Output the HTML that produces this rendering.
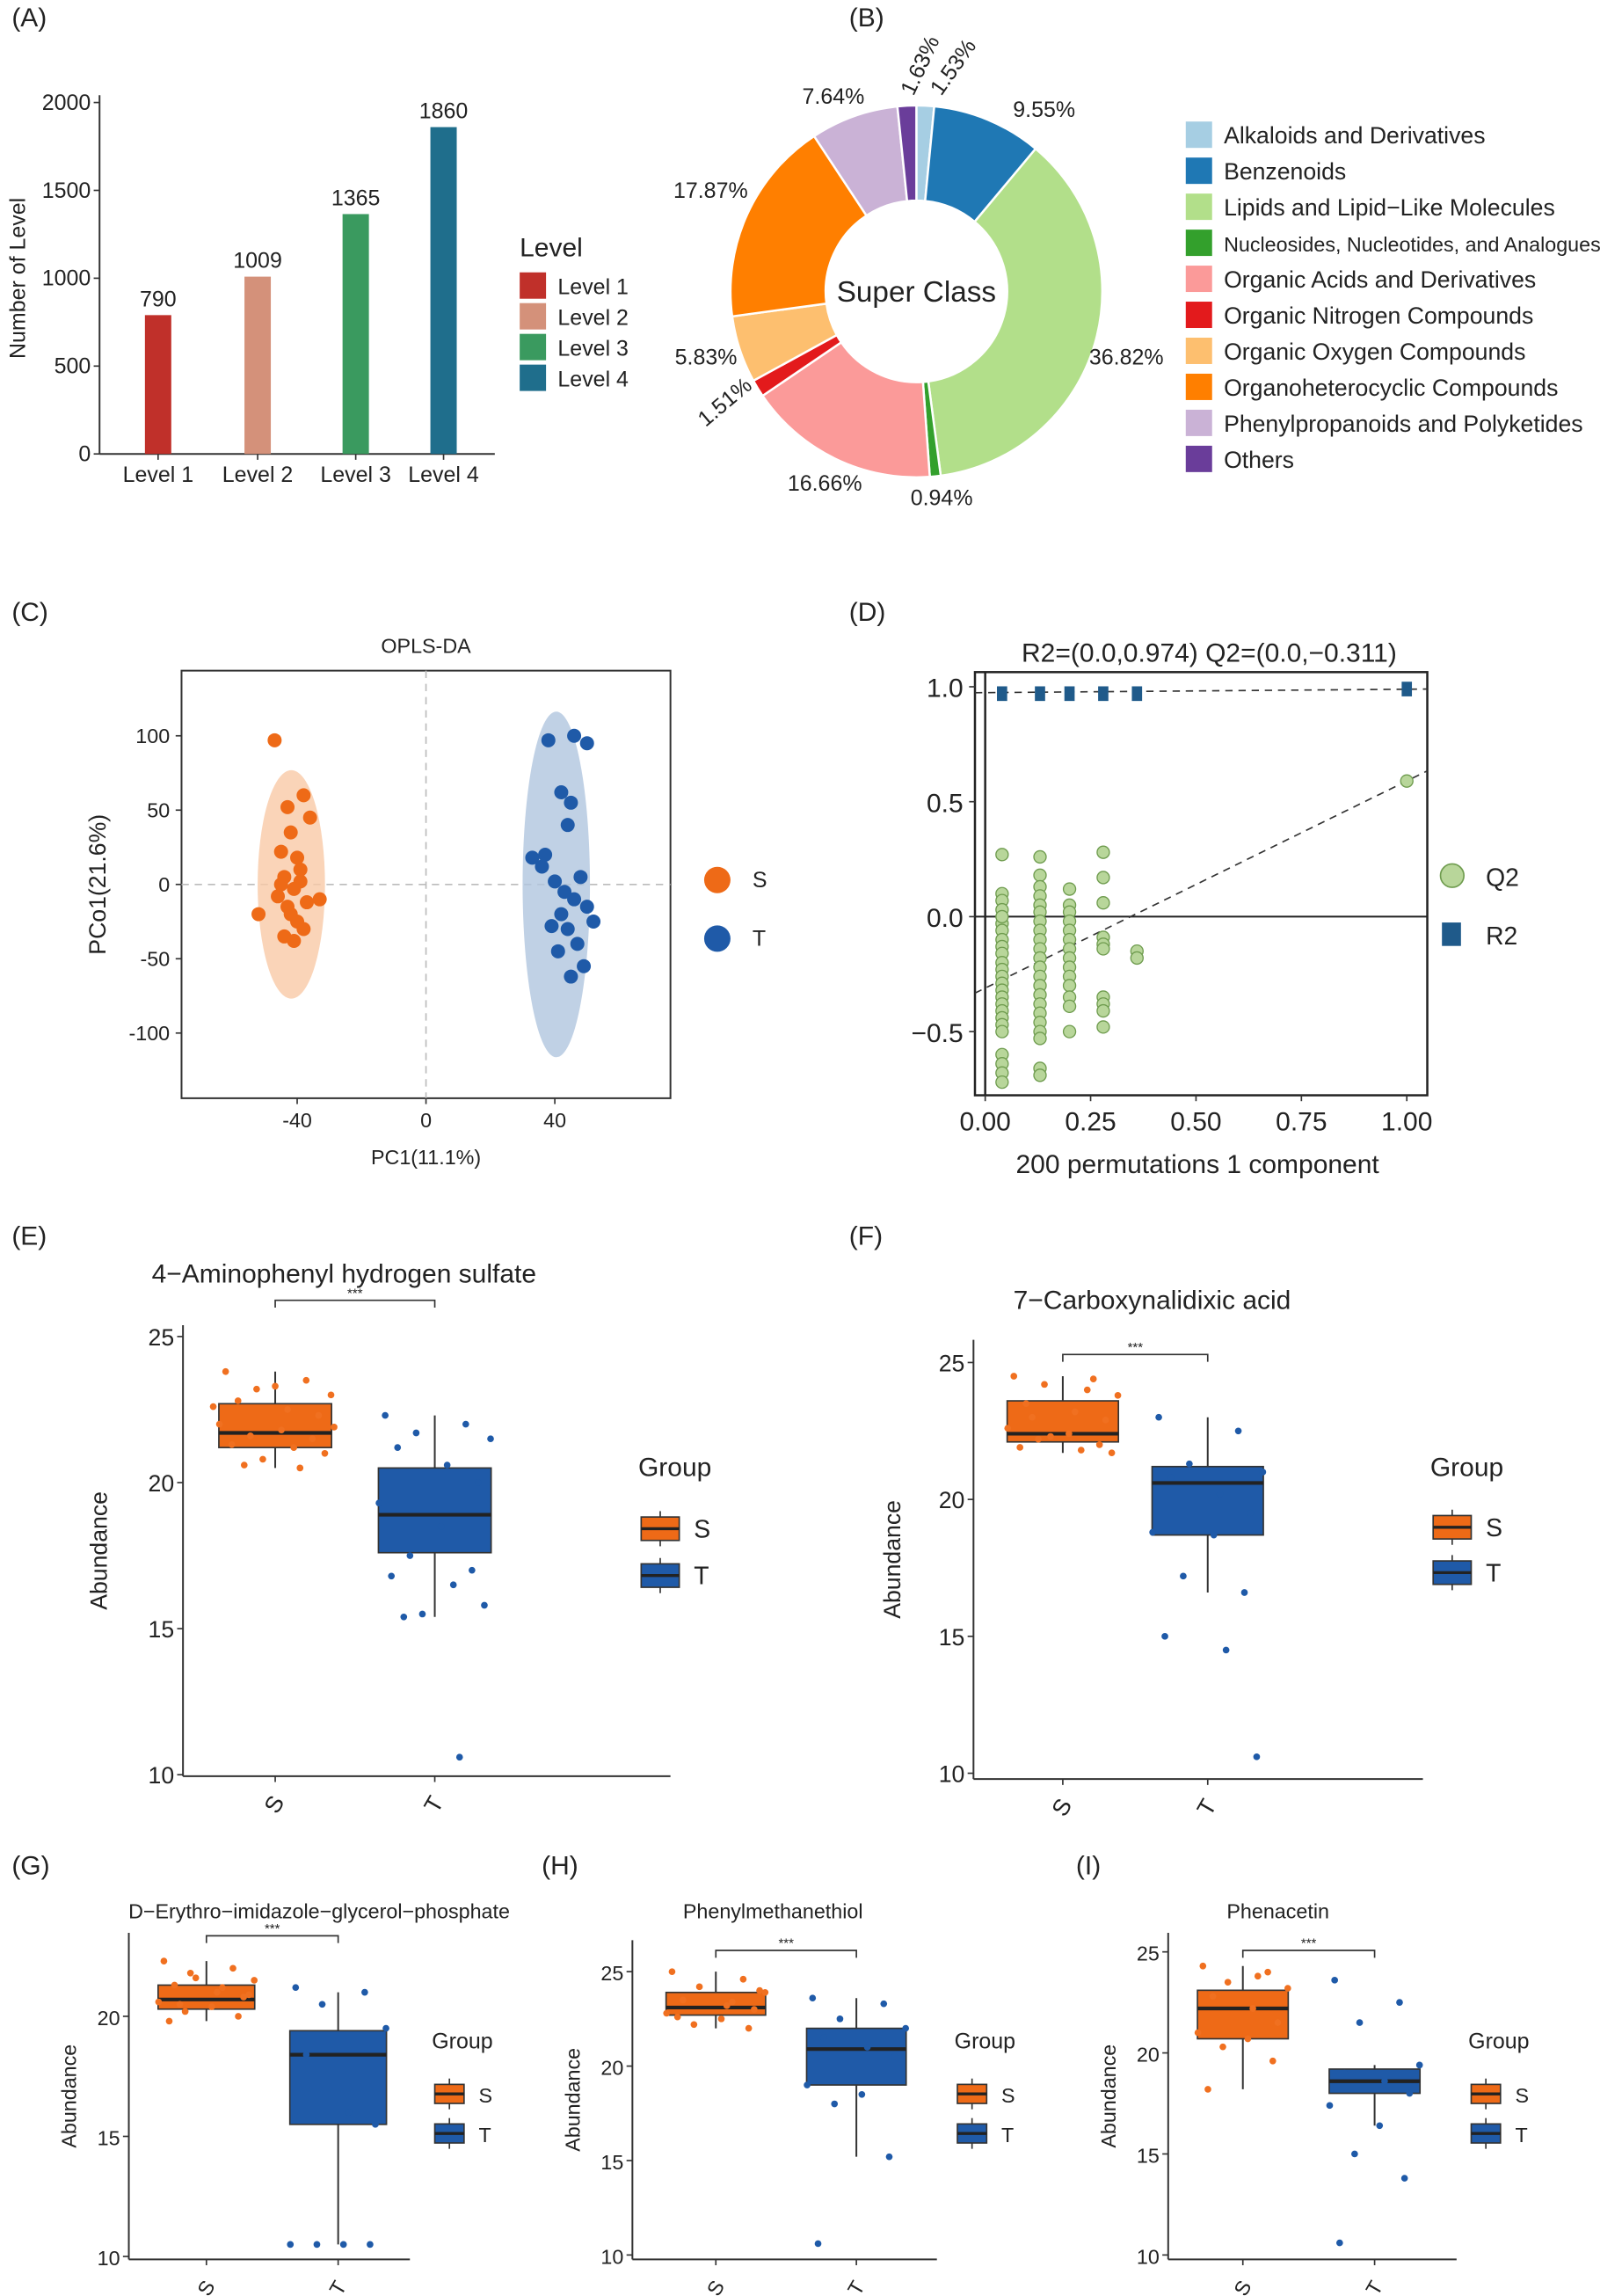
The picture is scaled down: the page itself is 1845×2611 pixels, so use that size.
<!DOCTYPE html>
<html><head><meta charset="utf-8"><style>
html,body{margin:0;padding:0;background:#fff}
svg{display:block;font-family:"Liberation Sans",Arial,sans-serif}
</style></head><body>
<svg id="fig" width="1845" height="2611" viewBox="0 0 1108 1568" xmlns="http://www.w3.org/2000/svg"></svg>
<script>
// ---------- DATA ----------
const levelCats=["Level 1","Level 2","Level 3","Level 4"];
const levelVals=[790,1009,1365,1860];
const levelTicks=[0,500,1000,1500,2000];
const superCats=["Alkaloids and Derivatives","Benzenoids","Lipids and Lipid\u2212Like Molecules","Nucleosides, Nucleotides, and Analogues","Organic Acids and Derivatives","Organic Nitrogen Compounds","Organic Oxygen Compounds","Organoheterocyclic Compounds","Phenylpropanoids and Polyketides","Others"];
const superVals=[1.53,9.55,36.82,0.94,16.66,1.51,5.83,17.87,7.64,1.63];
const oplsSx=[-47,-43,-38,-36,-42,-45,-40,-44,-39,-41,-46,-37,-43,-42,-40,-52,-33,-38,-44,-41,-45,-39];
const oplsSy=[97,52,60,45,35,22,18,5,2,-3,-8,-12,-15,-20,-25,-20,-10,-30,-35,-38,0,10];
const oplsTx=[46,50,38,42,45,44,33,36,48,40,43,46,52,39,44,47,41,49,45,37,42,50];
const oplsTy=[100,95,97,62,55,40,18,12,5,2,-5,-10,-25,-28,-30,-40,-45,-55,-62,20,-20,-15];
const permX=[0.04,0.13,0.2,0.28,0.36];
const q2col0=[0.27,0.1,0.07,0.03,-0.03,-0.06,-0.1,-0.13,-0.16,-0.2,-0.23,-0.26,-0.29,-0.32,-0.35,-0.38,-0.41,-0.44,-0.47,-0.5,-0.6,-0.64,-0.68,-0.72,0.0];
const q2col1=[0.26,0.18,0.13,0.09,0.05,0.02,-0.02,-0.06,-0.1,-0.14,-0.18,-0.22,-0.26,-0.3,-0.34,-0.38,-0.42,-0.46,-0.5,-0.53,-0.66,-0.69];
const q2col2=[0.12,0.05,0.02,-0.02,-0.06,-0.1,-0.14,-0.18,-0.22,-0.26,-0.3,-0.35,-0.39,-0.5];
const q2col3=[0.28,0.17,0.06,-0.09,-0.12,-0.14,-0.35,-0.38,-0.41,-0.48];
const q2col4=[-0.15,-0.18];
const r2Xs=[0.04,0.13,0.2,0.28,0.36,1.0];
const r2Ys=[0.97,0.97,0.97,0.97,0.97,0.99];
const q2Real=[1.0,0.59];
const jitter=[-0.8,0.5,-0.3,0.9,-0.6,0.2,0.7,-0.9,0.1,-0.4,0.6,-0.7,0.3,0.8,-0.2,-0.5,0.4,-1,0.95,0,-0.15,0.55];
const eS=[23.8,23.5,23.2,23.0,22.8,22.5,22.3,22.0,21.8,21.6,21.5,21.3,21.2,21.0,20.8,20.6,20.5,22.6,21.9,23.3];
const eT=[22.3,22.0,21.7,21.5,21.2,20.6,20.0,19.3,18.5,17.5,17.0,16.8,16.5,15.8,15.5,15.4,10.6];
const fS=[24.5,24.4,24.2,23.8,23.5,23.2,22.9,22.6,22.4,22.2,22.0,21.9,21.8,21.7,22.3,23.0,24.0];
const fT=[23.0,22.5,21.3,21.0,20.8,20.2,19.5,18.8,18.7,17.2,16.6,15.0,14.5,10.6];
const gS=[22.3,22.0,21.8,21.5,21.3,21.0,20.8,20.6,20.4,20.2,20.0,19.8,21.2,20.9,21.6,20.5];
const gT=[21.2,21.0,20.5,19.5,18.4,16.0,15.5,10.5,10.5,10.5,10.5];
const hS=[25.0,24.6,24.2,23.9,23.5,23.2,23.0,22.8,22.5,22.2,22.0,22.6,23.4,24.0];
const hT=[23.6,23.3,22.5,22.0,21.5,21.0,20.5,19.0,18.5,18.0,15.2,10.6];
const iS=[24.3,24.0,23.5,23.2,22.8,22.2,21.5,21.0,20.7,20.3,19.6,18.2,23.8];
const iT=[23.6,22.5,21.5,19.4,19.0,18.6,18.0,17.4,16.4,15.0,13.8,10.6];
const boxStats={
 E:{S:[20.5,21.2,21.7,22.7,23.8],T:[15.4,17.6,18.9,20.5,22.3]},
 F:{S:[21.7,22.1,22.4,23.6,24.5],T:[16.6,18.7,20.6,21.2,23.0]},
 G:{S:[19.8,20.3,20.7,21.3,22.3],T:[10.5,15.5,18.4,19.4,21.0]},
 H:{S:[22.0,22.7,23.1,23.9,25.0],T:[15.2,19.0,20.9,22.0,23.6]},
 I:{S:[18.2,20.7,22.2,23.1,24.3],T:[16.4,18.0,18.6,19.2,19.4]}
};
// ---------- HELPERS ----------
const svg=document.getElementById('fig');
const NS='http://www.w3.org/2000/svg';
function el(tag,attrs,parent,text){const e=document.createElementNS(NS,tag);for(const k in attrs)e.setAttribute(k,attrs[k]);if(text!==undefined)e.textContent=text;(parent||svg).appendChild(e);return e;}
function txt(x,y,s,size,opts,parent){opts=opts||{};const a={x:x,y:y,'font-size':size,fill:opts.fill||'#222','text-anchor':opts.anchor||'start'};if(opts.rot!==undefined)a.transform='rotate('+opts.rot+' '+x+' '+y+')';if(opts.weight)a['font-weight']=opts.weight;const t=el('text',a,parent,s);return t;}
function grp(name){const g=el('g',{},svg);return g;}
[["(A)",8,18],["(B)",580,18],["(C)",8,424],["(D)",580,424],["(E)",8,850],["(F)",580,850],["(G)",8,1280],["(H)",370,1280],["(I)",735,1280]].forEach(p=>{txt(p[1],p[2],p[0],18,{name:'panel-label'});});

// ---------- A ----------
(function(){
 const g=grp('panel-a-bar-chart');
 const x0=68,x1=338,yb=310,yt=70;
 const ys=v=>yb-(v/2000)*(yb-yt);
 el('line',{x1:x0,y1:yt-5,x2:x0,y2:yb,stroke:'#333','stroke-width':1.2},g);
 el('line',{x1:x0,y1:yb,x2:x1,y2:yb,stroke:'#333','stroke-width':1.2},g);
 levelTicks.forEach(t=>{el('line',{x1:x0-4,y1:ys(t),x2:x0,y2:ys(t),stroke:'#333'},g);txt(x0-6,ys(t)+5,String(t),15,{anchor:'end',name:'y-tick-label'},g);});
 const cols=['#c0302a','#d4917a','#3a9a5f','#1f6e8c'];
 const xc=[108,176,243,303];
 levelVals.forEach((v,i)=>{const r=el('rect',{x:xc[i]-9,y:ys(v),width:18,height:yb-ys(v),fill:cols[i]},g);
  txt(xc[i],ys(v)-6,String(v),15,{anchor:'middle',name:'bar-value'},g);
  el('line',{x1:xc[i],y1:yb,x2:xc[i],y2:yb+4,stroke:'#333'},g);
  txt(xc[i],yb+19,levelCats[i],15,{anchor:'middle',name:'x-tick-label'},g);});
 txt(17,190,'Number of Level',15,{anchor:'middle',rot:-90,name:'y-axis-title'},g);
 txt(355,175,'Level',18,{name:'legend-title'},g);
 levelCats.forEach((c,i)=>{const y=186+i*21;const r=el('rect',{x:355,y:y,width:18,height:18,fill:cols[i]},g);txt(381,y+15,c,15,{name:'legend-entry'},g);});
})();

// ---------- B ----------
(function(){
 const g=grp('panel-b-donut');
 const cx=626,cy=199,R=127,r=62;
 const cols=['#a6cee3','#1f78b4','#b2df8a','#33a02c','#fb9a99','#e31a1c','#fdbf6f','#ff7f00','#cab2d6','#6a3d9a'];
 const tot=superVals.reduce((a,b)=>a+b,0);let a0=0;
 superVals.forEach((v,i)=>{const a1=a0+v/tot*2*Math.PI;
  const p=(a,rr)=>[cx+rr*Math.sin(a),cy-rr*Math.cos(a)];
  const [x1,y1]=p(a0,R),[x2,y2]=p(a1,R),[x3,y3]=p(a1,r),[x4,y4]=p(a0,r);const lg=(a1-a0)>Math.PI?1:0;
  const s=el('path',{d:`M${x1},${y1}A${R},${R} 0 ${lg} 1 ${x2},${y2}L${x3},${y3}A${r},${r} 0 ${lg} 0 ${x4},${y4}Z`,fill:cols[i],stroke:'#fff','stroke-width':1.5},g);
  
  a0=a1;});
 txt(cx,cy+7,'Super Class',20,{anchor:'middle',name:'donut-center-label'},g);
 [["1.63%",624,66,-65],["1.53%",643,66,-55],["9.55%",692,80],["36.82%",744,249],["0.94%",622,345],["16.66%",538,335],["1.51%",482,292,-40],["5.83%",461,249],["17.87%",460,135],["7.64%",548,71]].forEach(l=>txt(l[1],l[2],l[0],15,{rot:l[3],name:'slice-percent-label'},g));
 superCats.forEach((c,i)=>{const y=83+i*24.6;const s=el('rect',{x:810,y:y,width:18,height:18,fill:cols[i]},g);txt(836,y+15,c,i==3?14:16,{name:'legend-entry'},g);});
})();

// ---------- C ----------
(function(){
 const g=grp('panel-c-opls-da');
 const L=124,Rr=458,T=458,B=750;
 const xs=v=>291+v*2.2, ys=v=>604-v*1.015;
 el('rect',{x:L,y:T,width:Rr-L,height:B-T,fill:'none',stroke:'#333','stroke-width':1.2},g);
 el('line',{x1:xs(0),y1:T,x2:xs(0),y2:B,stroke:'#bbb','stroke-dasharray':'5,4'},g);
 el('line',{x1:L,y1:ys(0),x2:Rr,y2:ys(0),stroke:'#bbb','stroke-dasharray':'5,4'},g);
 el('ellipse',{cx:199,cy:604,rx:23,ry:78,fill:'#f9c9a6',opacity:0.8},g);
 el('ellipse',{cx:380,cy:604,rx:23,ry:118,fill:'#b0c6df',opacity:0.8},g);
 oplsSx.forEach((x,i)=>{const c=el('circle',{cx:xs(x),cy:ys(oplsSy[i]),r:4.8,fill:'#ee6a17'},g);});
 oplsTx.forEach((x,i)=>{const c=el('circle',{cx:xs(x),cy:ys(oplsTy[i]),r:4.8,fill:'#1f5aa8'},g);});
 [-40,0,40].forEach(t=>{el('line',{x1:xs(t),y1:B,x2:xs(t),y2:B+4,stroke:'#333'},g);txt(xs(t),B+20,String(t),14,{anchor:'middle',name:'x-tick-label'},g);});
 [100,50,0,-50,-100].forEach(t=>{el('line',{x1:L-4,y1:ys(t),x2:L,y2:ys(t),stroke:'#333'},g);txt(L-8,ys(t)+5,String(t),14,{anchor:'end',name:'y-tick-label'},g);});
 txt(291,446,'OPLS-DA',14,{anchor:'middle',name:'chart-title'},g);
 txt(291,795,'PC1(11.1%)',14,{anchor:'middle',name:'x-axis-title'},g);
 txt(72,604,'PCo1(21.6%)',16,{anchor:'middle',rot:-90,name:'y-axis-title'},g);
 el('circle',{cx:490,cy:601,r:9,fill:'#ee6a17'},g);txt(514,606,'S',15,{name:'legend-entry'},g);
 el('circle',{cx:490,cy:641,r:9,fill:'#1f5aa8'},g);txt(514,646,'T',15,{name:'legend-entry'},g);
})();

// ---------- D ----------
(function(){
 const g=grp('panel-d-permutation');
 const L=666,Rr=975,T=459,B=748;
 const xs=v=>673+v*288, ys=v=>626-v*157;
 el('rect',{x:L,y:T,width:Rr-L,height:B-T,fill:'none',stroke:'#222','stroke-width':1.5},g);
 el('line',{x1:xs(0),y1:T,x2:xs(0),y2:B,stroke:'#222','stroke-width':1.5},g);
 el('line',{x1:L,y1:ys(0),x2:Rr,y2:ys(0),stroke:'#222','stroke-width':1.2},g);
 el('line',{x1:L,y1:ys(0.974),x2:Rr,y2:ys(0.99),stroke:'#333','stroke-dasharray':'5,4'},g);
 el('line',{x1:L,y1:ys(-0.311+0.9*(-0.024)),x2:Rr,y2:ys(-0.311+0.9*(1.05)),stroke:'#333','stroke-dasharray':'5,4'},g);
 [q2col0,q2col1,q2col2,q2col3,q2col4].forEach((col,ci)=>col.forEach(v=>{const c=el('circle',{cx:xs(permX[ci]),cy:ys(v),r:4.2,fill:'#b8d69a',stroke:'#6f9c4f','stroke-width':0.8},g);}));
 const c=el('circle',{cx:xs(q2Real[0]),cy:ys(q2Real[1]),r:4.2,fill:'#b8d69a',stroke:'#6f9c4f','stroke-width':0.8},g);
 r2Xs.forEach((x,i)=>{const s=el('rect',{x:xs(x)-3.5,y:ys(r2Ys[i])-5,width:7,height:10,fill:'#1f5a8a'},g);});
 [0,0.25,0.5,0.75,1].forEach(t=>{el('line',{x1:xs(t),y1:B,x2:xs(t),y2:B+4,stroke:'#333'},g);txt(xs(t),B+24,t.toFixed(2),18,{anchor:'middle',name:'x-tick-label'},g);});
 [1,0.5,0,-0.5].forEach(t=>{el('line',{x1:L-4,y1:ys(t),x2:L,y2:ys(t),stroke:'#333'},g);txt(L-8,ys(t)+7,t===0?'0.0':t.toFixed(1).replace('-','\u2212'),18,{anchor:'end',name:'y-tick-label'},g);});
 txt(826,452,'R2=(0.0,0.974)   Q2=(0.0,\u22120.311)',18,{anchor:'middle',name:'chart-title'},g);
 txt(818,801,'200 permutations 1 component',18,{anchor:'middle',name:'x-axis-title'},g);
 el('circle',{cx:992,cy:598,r:8,fill:'#b8d69a',stroke:'#6f9c4f'},g);txt(1015,605,'Q2',17,{name:'legend-entry'},g);
 el('rect',{x:985,y:630,width:13,height:16,fill:'#1f5a8a'},g);txt(1015,645,'R2',17,{name:'legend-entry'},g);
})();

// ---------- Box panels ----------
function boxPanel(cfg){
 const g=grp(cfg.name);
 const ys=v=>cfg.y0-(v-10)*cfg.k;
 el('line',{x1:cfg.ax,y1:cfg.top,x2:cfg.ax,y2:cfg.xb,stroke:'#333','stroke-width':1.2},g);
 el('line',{x1:cfg.ax,y1:cfg.xb,x2:cfg.xend,y2:cfg.xb,stroke:'#333','stroke-width':1.2},g);
 cfg.ticks.forEach(t=>{el('line',{x1:cfg.ax-4,y1:ys(t),x2:cfg.ax,y2:ys(t),stroke:'#333'},g);txt(cfg.ax-6,ys(t)+6,String(t),cfg.fs,{anchor:'end',name:'y-tick-label'},g);});
 const cols={S:['#ee6a17','#f07020'],T:['#1f5aa8','#1f5aa8']};
 ['S','T'].forEach((k,gi)=>{
  const cx=cfg.cx[gi],w=cfg.bw,st=cfg.stats[k];
  el('line',{x1:cx,y1:ys(st[0]),x2:cx,y2:ys(st[4]),stroke:'#333','stroke-width':1.2},g);
  const b=el('rect',{x:cx-w/2,y:ys(st[3]),width:w,height:ys(st[1])-ys(st[3]),fill:cols[k][0],stroke:'#333','stroke-width':1},g);
  
  el('line',{x1:cx-w/2,y1:ys(st[2]),x2:cx+w/2,y2:ys(st[2]),stroke:'#222','stroke-width':2.5},g);
  cfg.pts[k].forEach((v,i)=>{const c=el('circle',{cx:cx+jitter[i%jitter.length]*w*0.55,cy:ys(v),r:2.3,fill:cols[k][1]},g);});
  el('line',{x1:cx,y1:cfg.xb,x2:cx,y2:cfg.xb+4,stroke:'#333'},g);
  txt(cx+4,cfg.xb+22,k,cfg.fs,{anchor:'middle',rot:-60,name:'x-tick-label'},g);
 });
 const by=cfg.bracket;
 el('path',{d:`M${cfg.cx[0]},${by+5}V${by}H${cfg.cx[1]}V${by+5}`,fill:'none',stroke:'#333'},g);
 txt((cfg.cx[0]+cfg.cx[1])/2,by-2,'***',9,{anchor:'middle',name:'significance-label'},g);
 txt(cfg.tx,cfg.ty,cfg.title,cfg.tfs,{anchor:'middle',name:'chart-title'},g);
 txt(cfg.ax-cfg.ytOff,(cfg.top+cfg.xb)/2,'Abundance',cfg.fs,{anchor:'middle',rot:-90,name:'y-axis-title'},g);
 txt(cfg.lx,cfg.ly,'Group',cfg.lfs,{name:'legend-title'},g);
 ['S','T'].forEach((k,i)=>{const y=cfg.ly+cfg.lgap*(i+1)+4,h=cfg.lh,w=cfg.lw;
  el('line',{x1:cfg.lx+2+w/2,y1:y-h/2-4,x2:cfg.lx+2+w/2,y2:y+h/2+4,stroke:'#333'},g);
  el('rect',{x:cfg.lx+2,y:y-h/2,width:w,height:h,fill:cols[k][0],stroke:'#333'},g);
  el('line',{x1:cfg.lx+2,y1:y,x2:cfg.lx+2+w,y2:y,stroke:'#222','stroke-width':2},g);
  txt(cfg.lx+w+12,y+6,k,cfg.lfs-1,{name:'legend-entry'},g);});
}
boxPanel({name:'panel-e-boxplot',ax:125,top:905,xb:1213,xend:458,y0:1212,k:19.95,ticks:[25,20,15,10],fs:16,cx:[188,297],bw:77,stats:boxStats.E,pts:{S:eS,T:eT},bracket:888,title:'4\u2212Aminophenyl hydrogen sulfate',tx:235,ty:876,tfs:18,ytOff:52,lx:436,ly:1008,lfs:18,lgap:32,lh:16,lw:26});
boxPanel({name:'panel-f-boxplot',ax:665,top:915,xb:1215,xend:972,y0:1211,k:18.7,ticks:[25,20,15,10],fs:16,cx:[726,825],bw:76,stats:boxStats.F,pts:{S:fS,T:fT},bracket:925,title:'7\u2212Carboxynalidixic acid',tx:787,ty:894,tfs:18,ytOff:50,lx:977,ly:1008,lfs:18,lgap:31,lh:16,lw:26});
boxPanel({name:'panel-g-boxplot',ax:88,top:1320,xb:1543,xend:280,y0:1541,k:16.4,ticks:[20,15,10],fs:14,cx:[141,231],bw:66,stats:boxStats.G,pts:{S:gS,T:gT},bracket:1322,title:'D\u2212Erythro\u2212imidazole\u2212glycerol\u2212phosphate',tx:218,ty:1310,tfs:14,ytOff:36,lx:295,ly:1399,lfs:15,lgap:27,lh:13,lw:20});
boxPanel({name:'panel-h-boxplot',ax:432,top:1325,xb:1543,xend:640,y0:1540,k:12.9,ticks:[25,20,15,10],fs:14,cx:[489,585],bw:68,stats:boxStats.H,pts:{S:hS,T:hT},bracket:1332,title:'Phenylmethanethiol',tx:528,ty:1310,tfs:14,ytOff:36,lx:652,ly:1399,lfs:15,lgap:27,lh:13,lw:20});
boxPanel({name:'panel-i-boxplot',ax:798,top:1320,xb:1543,xend:995,y0:1540,k:13.8,ticks:[25,20,15,10],fs:14,cx:[849,939],bw:62,stats:boxStats.I,pts:{S:iS,T:iT},bracket:1332,title:'Phenacetin',tx:873,ty:1310,tfs:14,ytOff:36,lx:1003,ly:1399,lfs:15,lgap:27,lh:13,lw:20});
</script>
</body></html>
